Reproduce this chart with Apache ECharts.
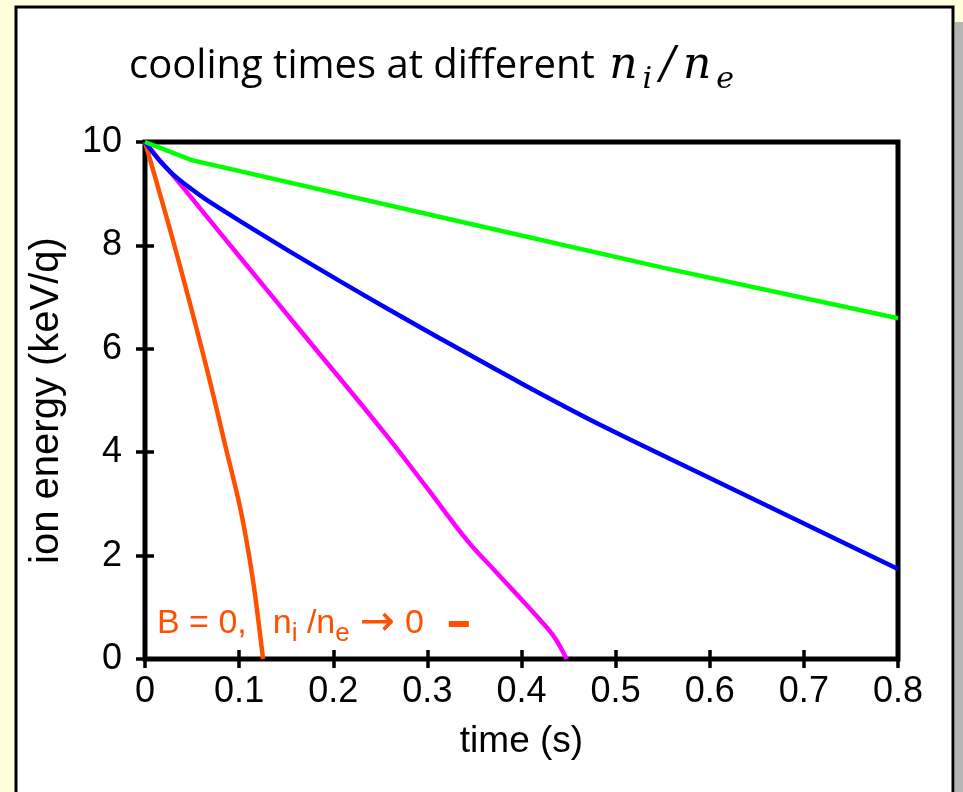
<!DOCTYPE html>
<html>
<head>
<meta charset="utf-8">
<title>cooling times</title>
<script src="https://cdn.jsdelivr.net/npm/echarts@6/dist/echarts.min.js"></script>
<style>
html, body { margin: 0; padding: 0; background: #ffffdc; }
#container { width: 963px; height: 792px; }
</style>
</head>
<body>
<div id="container"></div>
<script>
// time (s) and ion energy (keV/q)
var orangeT = [0, 0.015, 0.03, 0.047, 0.06, 0.0733, 0.085, 0.099, 0.105, 0.111, 0.117, 0.1254];
var orangeE = [10, 9.05, 8.08, 6.93, 6.02, 5.05, 4.15, 3.10, 2.57, 1.95, 1.23, 0];

var magentaT = [0, 0.015, 0.03, 0.0655, 0.101, 0.172, 0.255, 0.3, 0.342, 0.37, 0.395, 0.42, 0.435, 0.448];
var magentaE = [10, 9.66, 9.35, 8.56, 7.77, 6.20, 4.36, 3.30, 2.30, 1.74, 1.25, 0.75, 0.42, 0];

var blueT = [0, 0.015, 0.03, 0.05, 0.0655, 0.101, 0.154, 0.207, 0.26, 0.3135, 0.4, 0.4835, 0.6, 0.7, 0.8];
var blueE = [10, 9.65, 9.37, 9.08, 8.88, 8.47, 7.88, 7.31, 6.75, 6.20, 5.33, 4.53, 3.50, 2.62, 1.74];

var greenT = [0, 0.0496, 0.3135, 0.55, 0.8];
var greenE = [10, 9.65, 8.55, 7.57, 6.59];

var legendName = 'B = 0, ni/ne -> 0';

function pairs(t, e) {
	return t.map(function (v, i) { return [v, e[i]]; });
}

var chart = echarts.init(document.getElementById('container'));

var tickFont = 'Liberation Sans';
var tickSize = 36;
var orange = '#ff5000';
var tickStyle = { inside: true, length: 9, lineStyle: { color: '#000', width: 3.5 } };

var option = {
	backgroundColor: '#ffffdc',
	animation: false,
	graphic: [
		{ type: 'rect', z: -10, shape: { x: 955, y: 22, width: 10, height: 800 }, style: { fill: '#b4b4b4' } },
		{ type: 'rect', z: -10, shape: { x: 16, y: 7, width: 937, height: 800 }, style: { fill: '#ffffff', stroke: '#000000', lineWidth: 3 } }
	],
	title: {
		text: '{a|cooling times at different }{m|n}{s|i}{m|/}{m|n}{s|e}',
		left: 124,
		top: 34,
		textStyle: {
			fontWeight: 'normal',
			rich: {
				a: { fontFamily: 'Open Sans', fontWeight: 'normal', fontSize: 40, color: '#000', lineHeight: 56 },
				m: { fontFamily: 'DejaVu Serif', fontStyle: 'italic', fontWeight: 'normal', fontSize: 44, color: '#000', lineHeight: 56, padding: [0, 4, 0, 4] },
				s: { fontFamily: 'DejaVu Serif', fontStyle: 'italic', fontWeight: 'normal', fontSize: 30, color: '#000', lineHeight: 34, verticalAlign: 'bottom', padding: [0, 4, 0, 1] }
			}
		}
	},
	legend: {
		data: [legendName],
		left: 152,
		top: 598,
		align: 'right',
		icon: 'rect',
		itemWidth: 20,
		itemHeight: 6,
		formatter: function () {
			return '{t|B = 0,}{n|n}{s|i}{t| /n}{s|e}{a|\u2192}{r|0}';
		},
		textStyle: {
			color: orange,
			rich: {
				t: { fontFamily: tickFont, fontSize: 34, color: orange, lineHeight: 46 },
				n: { fontFamily: tickFont, fontSize: 34, color: orange, lineHeight: 46, padding: [0, 0, 0, 26] },
				s: { fontFamily: tickFont, fontSize: 26, color: orange, lineHeight: 26, verticalAlign: 'bottom' },
				a: { fontFamily: 'DejaVu Sans', fontSize: 42, color: orange, lineHeight: 46, padding: [0, 0, 0, 10] },
				r: { fontFamily: tickFont, fontSize: 34, color: orange, lineHeight: 46, padding: [0, 20, 0, 10] }
			}
		}
	},
	grid: {
		left: 145,
		top: 142,
		width: 753,
		height: 517,
		show: true,
		borderColor: '#000',
		borderWidth: 5
	},
	xAxis: [{
		type: 'value',
		min: 0,
		max: 0.8,
		interval: 0.1,
		axisLine: { show: false },
		splitLine: { show: false },
		axisTick: tickStyle,
		axisLabel: { fontFamily: tickFont, fontSize: tickSize, color: '#000', margin: 15 },
		name: 'time (s)',
		nameLocation: 'middle',
		nameGap: 64,
		nameTextStyle: { fontFamily: tickFont, fontSize: 37, color: '#000' }
	}, {
		type: 'value',
		position: 'top',
		min: 0,
		max: 0.8,
		interval: 0.1,
		axisLine: { show: false },
		splitLine: { show: false },
		axisLabel: { show: false },
		axisTick: tickStyle
	}],
	yAxis: [{
		type: 'value',
		min: 0,
		max: 10,
		interval: 2,
		axisLine: { show: false },
		splitLine: { show: false },
		axisTick: tickStyle,
		axisLabel: { fontFamily: tickFont, fontSize: tickSize, color: '#000', margin: 23 },
		name: 'ion energy (keV/q)',
		nameLocation: 'middle',
		nameGap: 78,
		nameTextStyle: { fontFamily: tickFont, fontSize: 40, color: '#000' }
	}, {
		type: 'value',
		position: 'right',
		min: 0,
		max: 10,
		interval: 2,
		axisLine: { show: false },
		splitLine: { show: false },
		axisLabel: { show: false },
		axisTick: tickStyle
	}],
	series: [
		{ name: legendName, type: 'line', data: pairs(orangeT, orangeE), showSymbol: false, smooth: 0.4, color: orange, lineStyle: { width: 4.5 } },
		{ name: 'magenta', type: 'line', data: pairs(magentaT, magentaE), showSymbol: false, smooth: 0.4, color: '#ff00ff', lineStyle: { width: 4.5 } },
		{ name: 'blue', type: 'line', data: pairs(blueT, blueE), showSymbol: false, smooth: 0.3, color: '#0000ff', lineStyle: { width: 4.5 } },
		{ name: 'green', type: 'line', data: pairs(greenT, greenE), showSymbol: false, color: '#00ff00', lineStyle: { width: 4.5 } }
	]
};

chart.setOption(option);
window.addEventListener('resize', function () {
	chart.resize();
});
</script>
</body>
</html>
